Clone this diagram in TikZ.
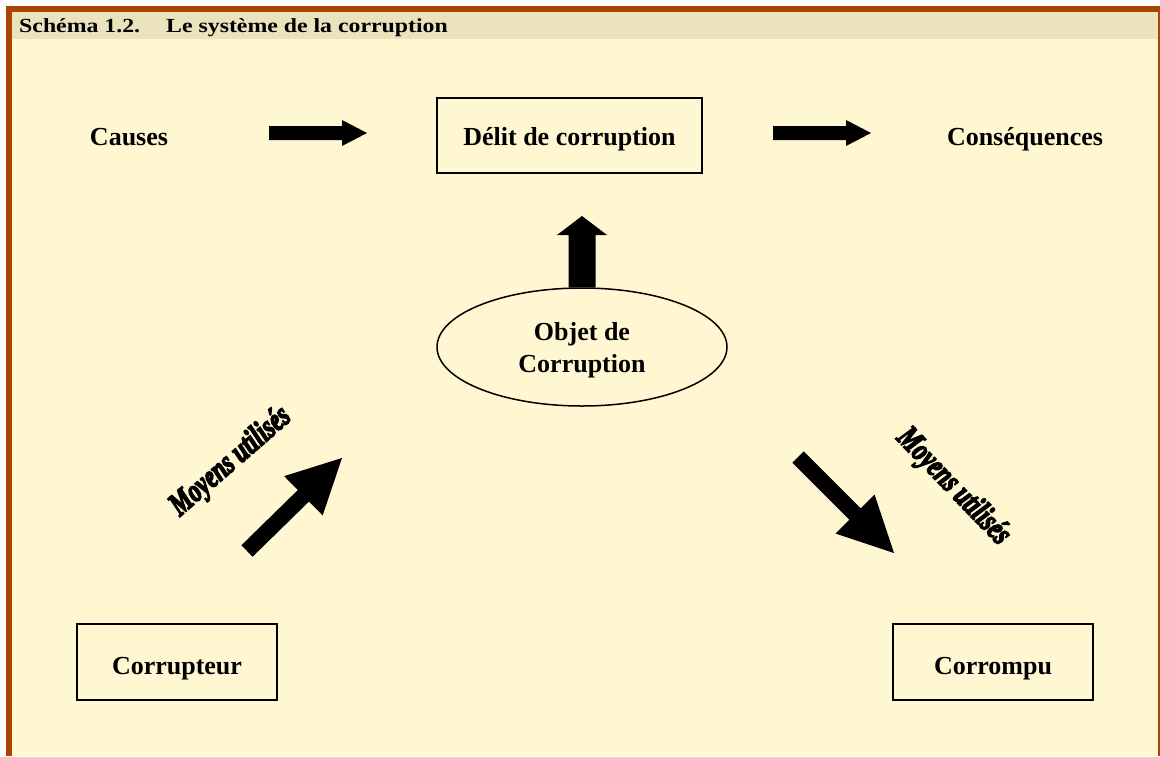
\documentclass[tikz,border=0pt]{standalone}
\usepackage{fontspec}
\setmainfont{Liberation Serif}
\newfontfamily\heavyit[FakeBold=5]{Liberation Serif Bold Italic}
\usetikzlibrary{calc,shapes.geometric}
\definecolor{bgc}{RGB}{255,247,209}
\definecolor{hdc}{RGB}{235,226,190}
\definecolor{brn}{RGB}{170,68,0}
\newcommand\fatarrow[5]{% tail, tip, shaft half width, head half width, head length
  \coordinate (hb) at ($(#2)!#5!(#1)$);
  \fill ($(#1)!#3!90:(#2)$) -- ($(hb)!#3!-90:(#1)$) -- ($(hb)!#4!-90:(#1)$) -- (#2)
     -- ($(hb)!#4!90:(#1)$) -- ($(hb)!#3!90:(#1)$) -- ($(#1)!#3!-90:(#2)$) -- cycle;}
\newcommand\moytext{\scalebox{0.9}[1.25]{Moyens utilisés}}
\tikzset{
  lbl/.style={font=\bfseries\fontsize{26}{32}\selectfont, inner sep=0, anchor=base},
  box/.style={draw, line width=2pt, inner sep=0},
  ttl/.style={anchor=base west, font=\bfseries\fontsize{20}{24}\selectfont, inner sep=0},
  moy/.style={font=\heavyit\fontsize{26}{30}\selectfont, inner sep=0}
}
\begin{document}
\begin{tikzpicture}[x=1pt,y=-1pt]
\useasboundingbox (0,0) rectangle (1160,756);
\fill[white] (0,0) rectangle (1160,756);
\fill[bgc] (6,6) rectangle (1160,756);
\fill[hdc] (12,12) rectangle (1158,39);
\fill[brn] (6,6) rectangle (1160,12);
\fill[brn] (6,6) rectangle (12,756);
\fill[brn] (1158,6) rectangle (1160,756);
\node[ttl] (t1) at (19,32.5) {\scalebox{1.19}[1]{Schéma 1.2.}};
\node[ttl] (t2) at (166,32.5) {\scalebox{1.19}[1]{Le système de la corruption}};

\node[box, minimum width=265, minimum height=75] (delit) at (569.5,135.5) {};
\node[box, minimum width=200, minimum height=76] (corrupteur) at (177,662) {};
\node[box, minimum width=200, minimum height=76] (corrompu) at (993,662) {};
\node[draw, ellipse, line width=1.5pt, minimum width=290, minimum height=118, inner sep=0] (objet) at (582,347) {};

\node[lbl] (causes) at (129,145) {Causes};
\node[lbl] (delittxt) at (delit.center |- 0,145) {Délit de corruption};
\node[lbl] (consq) at (1025,145) {Conséquences};
\node[lbl] (obj1) at (582,340) {Objet de};
\node[lbl] (obj2) at (582,372) {Corruption};
\node[lbl] (corrupteurtxt) at (corrupteur.center |- 0,674) {Corrupteur};
\node[lbl] (corromputxt) at (corrompu.center |- 0,674) {Corrompu};

\node[moy, rotate=41] (m1) at (231,462) {\moytext};
\node[moy, rotate=-46] (m2) at (953,487) {\moytext};

\coordinate (a1s) at (269,133); \coordinate (a1e) at (367,133);
\coordinate (a2s) at (773,133); \coordinate (a2e) at (871,133);
\coordinate (a3s) at (objet.north); \coordinate (a3e) at (582,216);
\coordinate (a4s) at (247,551); \coordinate (a4e) at (342,458);
\coordinate (a5s) at (798,457); \coordinate (a5e) at (894,553);
\fatarrow{a1s}{a1e}{7pt}{13pt}{25pt}
\fatarrow{a2s}{a2e}{7pt}{13pt}{25pt}
\fatarrow{a3s}{a3e}{13.5pt}{25pt}{19pt}
\fatarrow{a4s}{a4e}{8pt}{27.5pt}{54pt}
\fatarrow{a5s}{a5e}{8pt}{27.5pt}{55pt}
\end{tikzpicture}
\end{document}
